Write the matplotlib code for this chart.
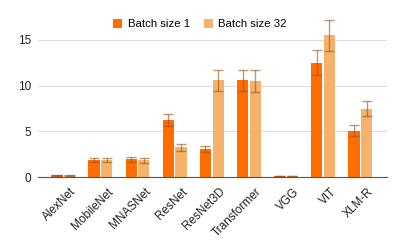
import numpy as np
import matplotlib.pyplot as plt
import matplotlib.transforms as mtransforms

plt.rcParams['font.family'] = ['Liberation Sans', 'DejaVu Sans']

models = ['AlexNet', 'MobileNet', 'MNASNet', 'ResNet', 'ResNet3D',
          'Transformer', 'VGG', 'VIT', 'XLM-R']
batch1 = [0.2, 1.9, 1.95, 6.25, 3.1, 10.6, 0.15, 12.5, 5.1]
batch1_err = [0.03, 0.25, 0.25, 0.7, 0.35, 1.15, 0.03, 1.4, 0.55]
batch32 = [0.2, 1.9, 1.85, 3.25, 10.6, 10.45, 0.15, 15.5, 7.5]
batch32_err = [0.03, 0.25, 0.25, 0.4, 1.15, 1.2, 0.03, 1.7, 0.85]

fig = plt.figure(figsize=(3.99, 2.47), dpi=100)
ax = fig.add_axes([38/399, 1 - 177.3/247, 349/399, (177.3 - 16.8)/247])

x = np.arange(len(models))
w = 0.3
err_style = dict(ecolor='#9a4f1c', elinewidth=1, capsize=3.5, capthick=1, alpha=0.6)
ax.bar(x - w/2 - 0.02, batch1, w, color='#ff6d01', label='Batch size 1', zorder=2)
ax.bar(x + w/2 + 0.02, batch32, w, color='#f6b26b', label='Batch size 32', zorder=2)
ax.errorbar(x - w/2 - 0.02, batch1, yerr=batch1_err, fmt='none', zorder=3,
            clip_on=False, **err_style)
ax.errorbar(x + w/2 + 0.02, batch32, yerr=batch32_err, fmt='none', zorder=3,
            clip_on=False, **err_style)

ax.set_xlim(-0.68, 8.72)
ax.set_ylim(0, 17.5)
ax.set_yticks([0, 5, 10, 15])
ax.set_xticks(x)
ax.set_xticklabels(models, rotation=45, ha='right', rotation_mode='anchor')
ax.tick_params(axis='both', length=0, labelsize=8.5, colors='#222222')
ax.tick_params(axis='x', pad=6)
ax.tick_params(axis='y', pad=5)
shift = mtransforms.ScaledTranslation(7/100, 0, fig.dpi_scale_trans)
for lbl in ax.get_xticklabels():
    lbl.set_transform(lbl.get_transform() + shift)
ax.grid(axis='y', color='#dddddd', linewidth=0.8, zorder=0)
for s in ['top', 'right', 'left']:
    ax.spines[s].set_visible(False)
ax.spines['bottom'].set_color('#555555')
ax.spines['bottom'].set_zorder(4)

fig.legend(loc='center', bbox_to_anchor=(200/399, 1 - 24/247), ncol=2,
           frameon=False, fontsize=8.2, handlelength=0.8, handleheight=0.8,
           handletextpad=0.5, columnspacing=1.2)

fig.savefig('out.png', dpi=100)
